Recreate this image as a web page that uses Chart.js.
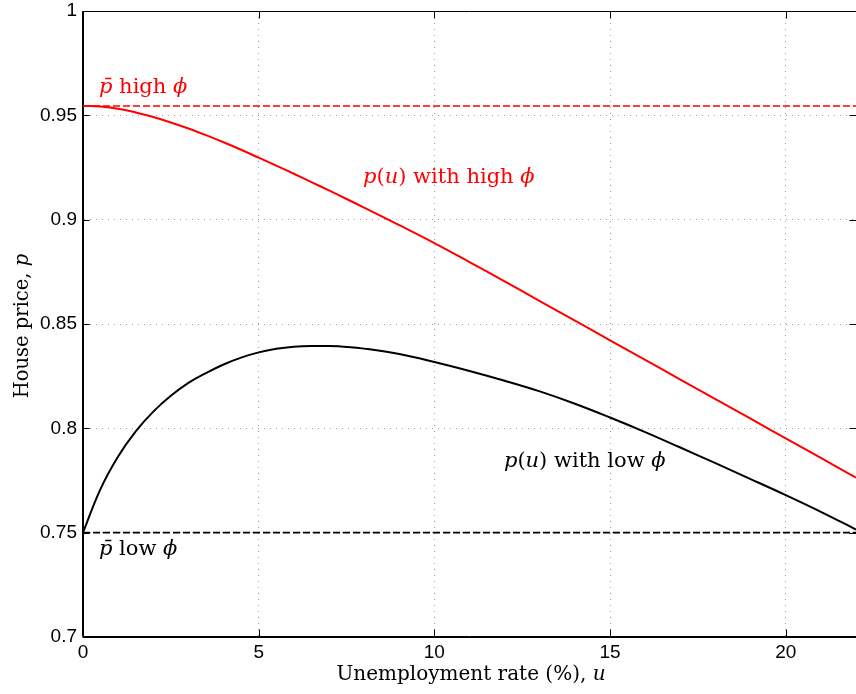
<!DOCTYPE html>
<html>
<head>
<meta charset="utf-8">
<script src="https://cdn.jsdelivr.net/npm/chart.js@4"></script>
<style>
  html, body { margin: 0; padding: 0; background: #fff; }
  #wrap { width: 856px; height: 694px; }
</style>
</head>
<body>
<div id="wrap"><canvas id="priceChart" width="856" height="694"></canvas></div>
<script>
'use strict';
// ===================== data =====================
// unemployment rate u (%)
const uGrid = [0, 0.5, 1, 1.5, 2, 2.5, 3, 3.5, 4, 4.5, 5, 5.5, 6, 6.5, 7, 7.5, 8,
               9, 10, 11, 12, 13, 14, 15, 16, 17, 18, 19, 20, 21, 22];
// house price p(u), high phi
const priceHighPhi = [0.9545, 0.9542, 0.9532, 0.9514, 0.9492, 0.9466, 0.9437, 0.9405, 0.9371, 0.9335, 0.9297,
                      0.9259, 0.9220, 0.9180, 0.9140, 0.9099, 0.9058,
                      0.8974, 0.8888, 0.8797, 0.8704, 0.8610, 0.8516, 0.8422,
                      0.8328, 0.8234, 0.8140, 0.8046, 0.7952, 0.7858, 0.7764];
// house price p(u), low phi
const priceLowPhi  = [0.7500, 0.7710, 0.7865, 0.7985, 0.8080, 0.8156, 0.8218, 0.8265, 0.8306, 0.8339, 0.8364,
                      0.8381, 0.8391, 0.8395, 0.8394, 0.8390, 0.8382,
                      0.8356, 0.8318, 0.8275, 0.8228, 0.8177, 0.8118, 0.8052,
                      0.7982, 0.7908, 0.7833, 0.7757, 0.7680, 0.7600, 0.7515];
// steady-state levels p-bar
const pBarHigh = 0.9545;
const pBarLow  = 0.75;

const xRange = [0, 22];
const xTicks = [0, 5, 10, 15, 20];
const xTickLabels = ['0', '5', '10', '15', '20'];
const yTicks = [0.7, 0.75, 0.8, 0.85, 0.9, 0.95, 1];
const yTickLabels = ['0.7', '0.75', '0.8', '0.85', '0.9', '0.95', '1'];

const RED = '#ff0000';
const BLACK = '#000000';
const SERIF = '"DejaVu Serif", serif';
const SANS = '"Liberation Sans", Arial, sans-serif';

// text runs: [text, italic]
const annotations = [
    { u: 0.455, p: 0.9607, color: RED,   runs: [['p\u0304', true], [' high ', false], ['\u03d5', true]] },
    { u: 7.97,  p: 0.9176, color: RED,   runs: [['p', true], ['(', false], ['u', true], [')', false], [' with high ', false], ['\u03d5', true]] },
    { u: 11.98, p: 0.7815, color: BLACK, runs: [['p', true], ['(', false], ['u', true], [')', false], [' with low ', false], ['\u03d5', true]] },
    { u: 0.455, p: 0.7393, color: BLACK, runs: [['p\u0304', true], [' low ', false], ['\u03d5', true]] }
];

// ===================== drawing helpers =====================
function runFont(italic, size) {
    return (italic ? 'italic ' : '') + size + 'px ' + SERIF;
}

function drawRuns(ctx, runs, x, y, size, color, align) {
    ctx.save();
    ctx.fillStyle = color;
    ctx.textBaseline = 'alphabetic';
    ctx.textAlign = 'left';
    const widths = runs.map(r => { ctx.font = runFont(r[1], size); return ctx.measureText(r[0]).width; });
    const total = widths.reduce((a, b) => a + b, 0);
    let cx = align === 'center' ? x - total / 2 : x;
    runs.forEach((r, i) => {
        ctx.font = runFont(r[1], size);
        ctx.fillText(r[0], cx, y);
        cx += widths[i];
    });
    ctx.restore();
}

const frame = {
    id: 'frame',
    afterDatasetsDraw(chart) {
        const { ctx, chartArea: a, scales: { x, y } } = chart;
        const L = Math.round(a.left) - 0.5, R = Math.round(a.right) + 0.5;
        const T = Math.round(a.top) + 0.5, B = Math.round(a.bottom) - 0.5;
        ctx.save();
        ctx.strokeStyle = BLACK;
        ctx.lineWidth = 1;
        ctx.beginPath();
        ctx.rect(L, T, R - L, B - T);
        // inward tick marks on all four sides
        const tl = 7;
        xTicks.forEach(v => {
            const px = Math.round(x.getPixelForValue(v)) + 0.5;
            ctx.moveTo(px, B); ctx.lineTo(px, B - tl);
            ctx.moveTo(px, T); ctx.lineTo(px, T + tl);
        });
        yTicks.forEach(v => {
            const py = Math.round(y.getPixelForValue(v)) + 0.5;
            ctx.moveTo(L, py); ctx.lineTo(L + tl, py);
            ctx.moveTo(R, py); ctx.lineTo(R - tl, py);
        });
        ctx.stroke();
        ctx.restore();

        annotations.forEach(n => {
            drawRuns(ctx, n.runs, x.getPixelForValue(n.u), y.getPixelForValue(n.p), 21, n.color, 'left');
        });
    },
    afterDraw(chart) {
        const { ctx } = chart;
        // x axis title
        drawRuns(ctx, [['Unemployment rate (%), ', false], ['u', true]], 471, 680, 20, BLACK, 'center');
        // y axis title
        ctx.save();
        ctx.translate(28, 326);
        ctx.rotate(-Math.PI / 2);
        drawRuns(ctx, [['House price, ', false], ['p', true]], 0, 0, 19.5, BLACK, 'center');
        ctx.restore();
    }
};

// ===================== chart =====================
const toPoints = ys => uGrid.map((u, i) => ({ x: u, y: ys[i] }));
const flatLine = level => xRange.map(u => ({ x: u, y: level }));

const ctx = document.getElementById('priceChart').getContext('2d');
const tickFont = { family: SANS, size: 19 };

new Chart(ctx, {
    type: 'line',
    data: {
        datasets: [
            { label: 'p-bar high phi', data: flatLine(pBarHigh), borderColor: RED, borderWidth: 1.6, borderDash: [7, 3] },
            { label: 'p-bar low phi', data: flatLine(pBarLow), borderColor: BLACK, borderWidth: 1.6, borderDash: [7, 3] },
            { label: 'p(u) with high phi', data: toPoints(priceHighPhi), borderColor: RED, borderWidth: 2, tension: 0.4 },
            { label: 'p(u) with low phi', data: toPoints(priceLowPhi), borderColor: BLACK, borderWidth: 2, tension: 0.4 }
        ]
    },
    options: {
        responsive: false,
        animation: false,
        events: [],
        layout: { padding: { top: 11, right: 0, left: 0, bottom: 0 } },
        elements: { point: { radius: 0 }, line: { fill: false } },
        plugins: { legend: { display: false }, tooltip: { enabled: false } },
        scales: {
            x: {
                type: 'linear',
                min: xRange[0],
                max: xRange[1],
                afterFit(scale) { scale.height = 57; scale.paddingLeft = 0; scale.paddingRight = 0; },
                afterBuildTicks(scale) { scale.ticks = xTicks.map(v => ({ value: v })); },
                ticks: { color: BLACK, font: tickFont, padding: 4, maxRotation: 0, callback: (v, i) => xTickLabels[i] },
                grid: { color: '#9a9a9a', lineWidth: 1, drawTicks: false },
                border: { display: true, color: BLACK, width: 1, dash: [1, 5] }
            },
            y: {
                type: 'linear',
                min: yTicks[0],
                max: yTicks[yTicks.length - 1],
                afterFit(scale) { scale.width = 83; scale.paddingTop = 0; scale.paddingBottom = 0; },
                afterBuildTicks(scale) { scale.ticks = yTicks.map(v => ({ value: v })); },
                ticks: { color: BLACK, font: tickFont, padding: 6, callback: (v, i) => yTickLabels[i] },
                grid: { color: '#9a9a9a', lineWidth: 1, drawTicks: false },
                border: { display: true, color: BLACK, width: 1, dash: [1, 5] }
            }
        }
    },
    plugins: [frame]
});
</script>
</body>
</html>
